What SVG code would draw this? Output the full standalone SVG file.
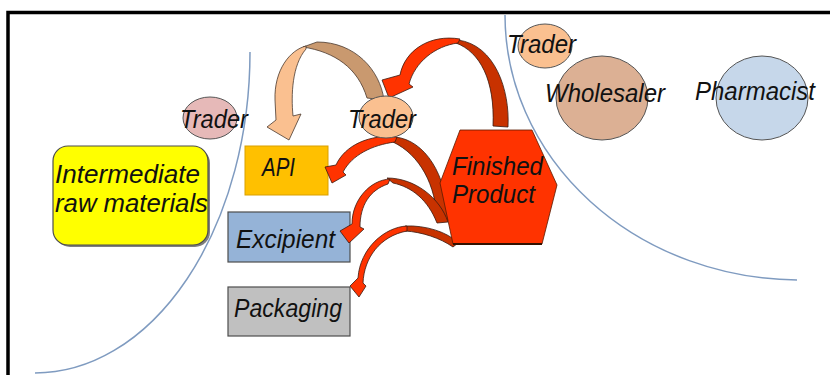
<svg xmlns="http://www.w3.org/2000/svg" width="830" height="375" viewBox="0 0 830 375">
  <style>
    .lbl { font-family: "Liberation Sans", "DejaVu Sans", sans-serif; font-style: italic; font-size: 25px; fill: #111; }
    .edge { fill: none; stroke: #7f9bc0; stroke-width: 1.5; }
    .oval { stroke: #555; stroke-width: 1; }
    .box { stroke: #4d4d4d; stroke-width: 1.2; }
    .hi { fill: #ff3300; stroke: #3a1a10; stroke-width: 0.8; stroke-linejoin: round; }
    .lo { fill: #c83200; stroke: #3a1a10; stroke-width: 0.8; stroke-linejoin: round; }
  </style>

  <rect width="830" height="375" fill="#ffffff"/>

  <!-- frame -->
  <path d="M8,375 V12.5 H830" fill="none" stroke="#000" stroke-width="3.5"/>

  <!-- region boundaries -->
  <g id="boundaries">
    <path class="edge" d="M250,52 A215,321 0 0 1 35,373"/>
    <path class="edge" d="M505,15 A295,265 0 0 0 797,280"/>
  </g>

  <!-- supply-side nodes -->
  <g id="intermediate">
    <rect x="55" y="148" width="155" height="99" rx="15" fill="#7f7f7f"/>
    <rect class="box" x="53" y="146" width="155" height="99" rx="15" fill="#ffff00" stroke="#333"/>
    <text class="lbl" x="55" y="183" textLength="145" lengthAdjust="spacingAndGlyphs">Intermediate</text>
    <text class="lbl" x="55" y="212" textLength="153" lengthAdjust="spacingAndGlyphs">raw materials</text>
  </g>

  <g id="trader-left">
    <ellipse class="oval" cx="210" cy="118" rx="27" ry="21" fill="#e6b9b8"/>
    <text class="lbl" x="180" y="128" textLength="68" lengthAdjust="spacingAndGlyphs">Trader</text>
  </g>

  <g id="api">
    <rect x="245" y="146" width="83" height="49" fill="#ffc000" stroke="#d9a000" stroke-width="1"/>
    <text class="lbl" x="262" y="176" textLength="33" lengthAdjust="spacingAndGlyphs">API</text>
  </g>

  <g id="excipient">
    <rect class="box" x="228" y="212" width="122" height="50" fill="#95b3d7"/>
    <text class="lbl" x="236" y="248" textLength="99" lengthAdjust="spacingAndGlyphs">Excipient</text>
  </g>

  <g id="packaging">
    <rect class="box" x="228" y="287" width="122" height="49" fill="#c0c0c0"/>
    <text class="lbl" x="234" y="317" textLength="108" lengthAdjust="spacingAndGlyphs">Packaging</text>
  </g>

  <!-- connectors: curved block arrows -->
  <g id="connectors">
    <!-- trader -> API (tan) -->
    <path d="M384,100 C380,70 355,42 317,42 L303,47 C335,52 358,68 367,98 Z" fill="#c9996f" stroke="#4a3a30" stroke-width="0.8"/>
    <path d="M306,46 C290,50 274,70 275,100 L276,120 L267,127 L289,140 L301,114 L293,116 C291,95 292,65 306,49 Z" fill="#fac090" stroke="#4a3a30" stroke-width="0.8"/>

    <!-- finished product -> trader -->
    <path class="lo" d="M508,127 C510,90 495,45 458,40 L456,43 C480,52 495,80 493,126 Z"/>
    <path class="hi" d="M460,39 C430,34 405,50 400,75 L382,80 L389,98 L413,87 L409,84 C415,62 435,46 458,43 Z"/>

    <!-- finished product -> API -->
    <path class="lo" d="M395,137 C425,140 447,175 448,220 L437,221 C436,185 420,155 393,142 Z"/>
    <path class="hi" d="M397,137 C370,134 345,145 336,165 L325,167 L332,183 L346,175 L343,172 C352,155 372,145 395,142 Z"/>

    <!-- finished product -> excipient -->
    <path class="lo" d="M387,178 C415,178 440,198 448,222 L437,223 C428,200 412,187 393,183 Z"/>
    <path class="hi" d="M390,179 C370,180 352,200 352,224 L340,231 L349,243 L364,229 L360,227 C360,205 370,190 388,184 Z"/>

    <!-- finished product -> packaging -->
    <path class="lo" d="M405,226 C425,225 448,232 458,243 L453,247 C440,238 422,232 405,231 Z"/>
    <path class="hi" d="M407,226 C385,227 360,248 358,278 L350,286 L359,297 L366,286 L363,283 C364,258 380,236 407,231 Z"/>
  </g>

  <g id="trader-center">
    <ellipse class="oval" cx="386" cy="117" rx="27" ry="21" fill="#fac090"/>
    <text class="lbl" x="348" y="128" textLength="68" lengthAdjust="spacingAndGlyphs">Trader</text>
  </g>

  <g id="finished-product">
    <polygon points="460,130 532,130 557,185 542,244 453,244 440,183" fill="#ff3300" stroke="#5a1a00" stroke-width="0.8"/>
    <line x1="453" y1="244" x2="542" y2="244" stroke="#331100" stroke-width="2"/>
    <text class="lbl" x="452" y="175" textLength="91" lengthAdjust="spacingAndGlyphs">Finished</text>
    <text class="lbl" x="452" y="203" textLength="83" lengthAdjust="spacingAndGlyphs">Product</text>
  </g>

  <!-- distribution-side nodes -->
  <g id="trader-right">
    <ellipse class="oval" cx="545" cy="46" rx="27" ry="22" fill="#fac090"/>
    <text class="lbl" x="507" y="53" textLength="69" lengthAdjust="spacingAndGlyphs">Trader</text>
  </g>

  <g id="wholesaler">
    <ellipse class="oval" cx="602" cy="98" rx="46" ry="42" fill="#dcb094"/>
    <text class="lbl" x="545" y="102" textLength="120" lengthAdjust="spacingAndGlyphs">Wholesaler</text>
  </g>

  <g id="pharmacist">
    <ellipse class="oval" cx="762" cy="98" rx="46" ry="42" fill="#c6d7ea"/>
    <text class="lbl" x="695" y="100" textLength="120" lengthAdjust="spacingAndGlyphs">Pharmacist</text>
  </g>
</svg>
